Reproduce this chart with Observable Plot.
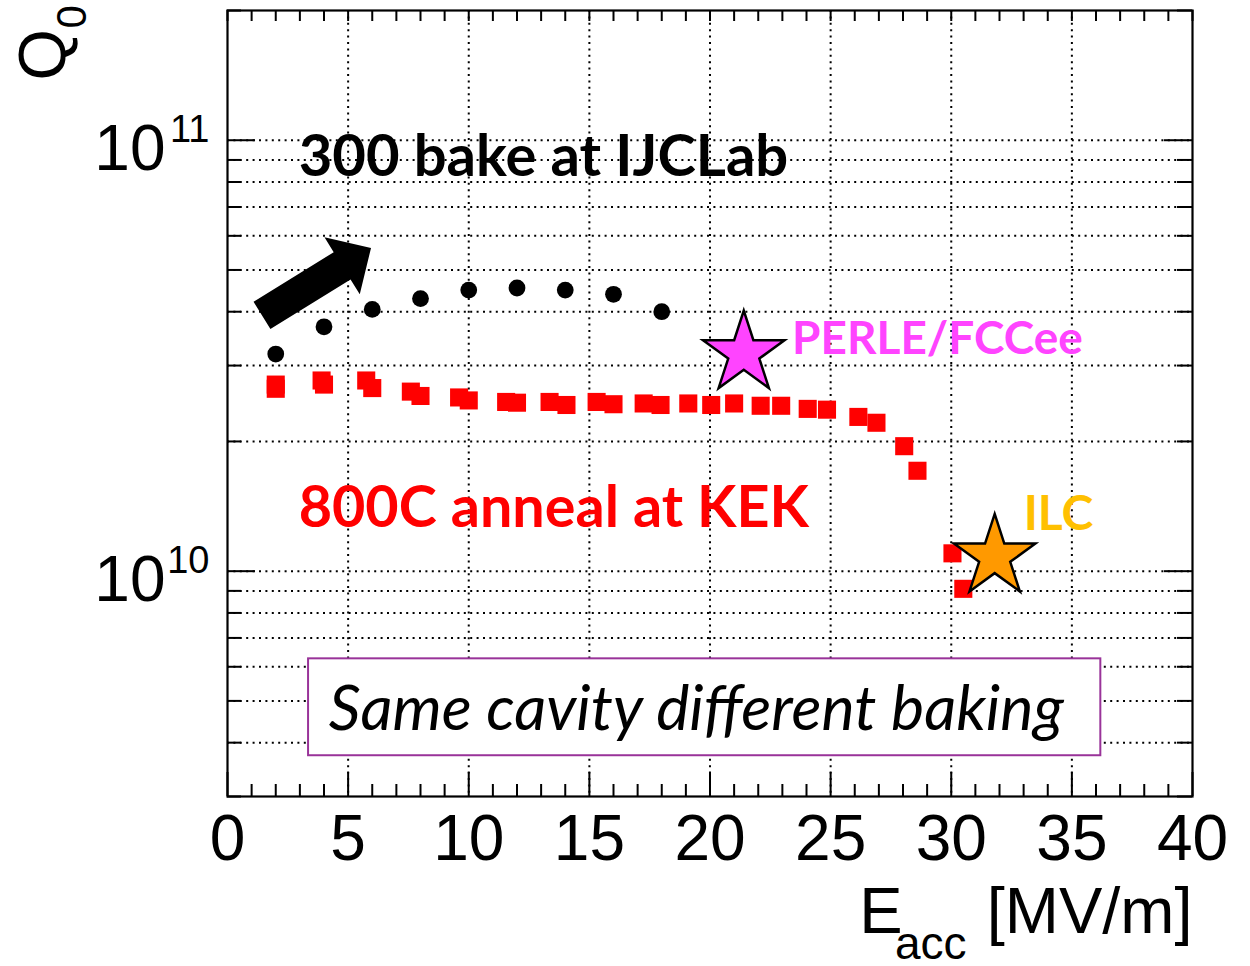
<!DOCTYPE html>
<html>
<head>
<meta charset="utf-8">
<script src="https://cdn.jsdelivr.net/npm/d3@7"></script>
<script src="https://cdn.jsdelivr.net/npm/@observablehq/plot@0.6"></script>
<style>
  html, body { margin: 0; padding: 0; background: #fff; }
</style>
</head>
<body>
<div id="chart"></div>
<script>
// Q0 against accelerating gradient for one cavity, after two different heat treatments

// 800C anneal (KEK): gradient in MV/m and quality factor
const gradient800C = [2.0, 2.0, 3.9, 4.0, 5.75, 6.0, 7.6, 8.0, 9.6, 10.0, 11.55, 12.0, 13.35, 14.05, 15.3, 16.0,
  17.25, 17.95, 19.1, 20.05, 21.0, 22.1, 22.95, 24.05, 24.85, 26.15, 26.9, 28.05, 28.6, 30.05, 30.5];
const q0800C = [2.71e10, 2.65e10, 2.77e10, 2.71e10, 2.77e10, 2.66e10, 2.61e10, 2.55e10, 2.53e10, 2.49e10, 2.47e10, 2.46e10,
  2.47e10, 2.43e10, 2.47e10, 2.44e10, 2.45e10, 2.43e10, 2.45e10, 2.43e10, 2.45e10, 2.42e10, 2.42e10, 2.38e10, 2.37e10,
  2.28e10, 2.21e10, 1.95e10, 1.71e10, 1.10e10, 9.1e9];

// 300C bake (IJCLab)
const gradient300C = [2, 4, 6, 8, 10, 12, 14, 16, 18];
const q0300C = [3.19e10, 3.69e10, 4.05e10, 4.29e10, 4.49e10, 4.54e10, 4.49e10, 4.39e10, 4.00e10];

// Machine specifications
const targetNames = ["PERLE/FCCee", "ILC"];
const targetGradient = [21.4, 31.8];
const targetQ0 = [3.2e10, 1.08e10];
const targetFill = ["#ff44ff", "#ff9900"];
const targetTextColor = ["#ff44ff", "#ffc000"];

// Axes
const xMajorTicks = [0, 5, 10, 15, 20, 25, 30, 35, 40];
const xMinorTicks = [1, 2, 3, 4, 6, 7, 8, 9, 11, 12, 13, 14, 16, 17, 18, 19, 21, 22, 23, 24, 26, 27, 28, 29,
  31, 32, 33, 34, 36, 37, 38, 39];
const xGrid = [5, 10, 15, 20, 25, 30, 35];
const yMajorTicks = [1e10, 1e11];
const yTickBase = ["10", "10"];
const yTickExponent = ["10", "11"];
const yMinorTicks = [3e9, 4e9, 5e9, 6e9, 7e9, 8e9, 9e9, 2e10, 3e10, 4e10, 5e10, 6e10, 7e10, 8e10, 9e10, 2e11];
const yGrid = [4e9, 5e9, 6e9, 7e9, 8e9, 9e9, 1e10, 2e10, 3e10, 4e10, 5e10, 6e10, 7e10, 8e10, 9e10, 1e11];

// Annotations (data coordinates)
const bakeLabel = {text: "300 bake at IJCLab", x: 2.95, y: 9.1e10};
const annealLabel = {text: "800C anneal at KEK", x: 2.95, y: 1.40e10};
const targetLabelX = [23.4, 33.0];
const targetLabelY = [3.45e10, 1.35e10];
const targetLabelSize = [46, 48];
const noteBox = {x1: 3.36, x2: 36.2, y1: 3.73e9, y2: 6.26e9};
const noteText = {text: "Same cavity different baking", x: 4.2, y: 4.76e9};
const arrowFrom = [1.45, 3.91e10];
const arrowTo = [5.97, 5.61e10];

const W = 1250, H = 966;
const M = {top: 10, right: 58, bottom: 170, left: 227};
const frameW = W - M.left - M.right;
const frameH = H - M.top - M.bottom;

const kek = gradient800C.map((x, i) => ({x, q: q0800C[i]}));
const ijc = gradient300C.map((x, i) => ({x, q: q0300C[i]}));
const targets = targetNames.map((name, i) => ({
  name, x: targetGradient[i], q: targetQ0[i], fill: targetFill[i],
  color: targetTextColor[i], lx: targetLabelX[i], ly: targetLabelY[i], size: targetLabelSize[i]
}));

const axisFont = "'Liberation Sans', Arial, Helvetica, sans-serif";
const noteFont = "Lato, 'Open Sans', sans-serif";
const gridStyle = {stroke: "black", strokeWidth: 2, strokeDasharray: "2,4.4"};

// Thick block arrow between two data points
function blockArrow(index, scales) {
  const x0 = scales.x(arrowFrom[0]), y0 = scales.y(arrowFrom[1]);
  const x1 = scales.x(arrowTo[0]), y1 = scales.y(arrowTo[1]);
  const len = Math.hypot(x1 - x0, y1 - y0);
  const ux = (x1 - x0) / len, uy = (y1 - y0) / len;
  const px = -uy, py = ux;
  const shaftHalf = 16, headHalf = 33.5, headLen = 34;
  const bx = x1 - ux * headLen, by = y1 - uy * headLen;
  const pts = [
    [x0 + px * shaftHalf, y0 + py * shaftHalf],
    [bx + px * shaftHalf, by + py * shaftHalf],
    [bx + px * headHalf, by + py * headHalf],
    [x1, y1],
    [bx - px * headHalf, by - py * headHalf],
    [bx - px * shaftHalf, by - py * shaftHalf],
    [x0 - px * shaftHalf, y0 - py * shaftHalf]
  ];
  const g = d3.create("svg:g");
  g.append("path").attr("d", "M" + pts.map(p => p.join(",")).join("L") + "Z").attr("fill", "black");
  return g.node();
}

const chart = Plot.plot({
  width: W, height: H,
  marginTop: M.top, marginRight: M.right, marginBottom: M.bottom, marginLeft: M.left,
  style: {fontFamily: axisFont, background: "white", overflow: "visible", color: "black"},
  x: {domain: [0, 40], axis: null},
  y: {type: "log", domain: [3e9, 2e11], axis: null},
  color: {type: "identity"},
  marks: [
    // dotted grid
    Plot.ruleX(xGrid, gridStyle),
    Plot.ruleY(yGrid, gridStyle),

    // boxed note
    Plot.rect([noteBox], {x1: "x1", x2: "x2", y1: "y1", y2: "y2", fill: "white", stroke: "#993399", strokeWidth: 2}),
    Plot.text([noteText], {x: "x", y: "y", text: "text", textAnchor: "start", fontSize: 62.6,
      fontStyle: "italic", fontFamily: noteFont, fill: "black"}),

    // arrow pointing up from the 800C curve
    blockArrow,

    // measurements
    Plot.dot(kek, {x: "x", y: "q", symbol: "square", r: 10.2, fill: "#ff0000"}),
    Plot.dot(ijc, {x: "x", y: "q", symbol: "circle", r: 8.4, fill: "black"}),

    // specification stars and their labels
    Plot.dot(targets, {x: "x", y: "q", symbol: "star", r: 25.6, fill: "fill", stroke: "black", strokeWidth: 2.5}),
    Plot.text(targets, {x: "lx", y: "ly", text: "name", fill: "color", textAnchor: "start",
      fontSize: d => d.size, fontWeight: "bold", fontFamily: noteFont}),

    // series labels
    Plot.text([bakeLabel], {x: "x", y: "y", text: "text", textAnchor: "start", fontSize: 58,
      fontWeight: "bold", fontFamily: noteFont, fill: "black"}),
    Plot.text([annealLabel], {x: "x", y: "y", text: "text", textAnchor: "start", fontSize: 57.5,
      fontWeight: "bold", fontFamily: noteFont, fill: "#ff0000"}),

    // inward ticks on all four sides
    Plot.ruleX(xMajorTicks, {insetTop: frameH - 24, stroke: "black", strokeWidth: 2}),
    Plot.ruleX(xMinorTicks, {insetTop: frameH - 12, stroke: "black", strokeWidth: 2}),
    Plot.ruleX(xMajorTicks.concat(xMinorTicks), {insetBottom: frameH - 11, stroke: "black", strokeWidth: 2}),
    Plot.ruleY(yMajorTicks, {insetRight: frameW - 28, stroke: "black", strokeWidth: 2}),
    Plot.ruleY(yMinorTicks, {insetRight: frameW - 14, stroke: "black", strokeWidth: 2}),
    Plot.ruleY(yMajorTicks, {insetLeft: frameW - 28, stroke: "black", strokeWidth: 2}),
    Plot.ruleY(yMinorTicks, {insetLeft: frameW - 15, stroke: "black", strokeWidth: 2}),
    Plot.frame({stroke: "black", strokeWidth: 2.2}),

    // x tick labels
    Plot.text(xMajorTicks, {x: d => d, frameAnchor: "bottom", lineAnchor: "top", dy: 18, fontSize: 64,
      text: d => String(d), fill: "black"}),
    // y tick labels: base and exponent
    Plot.text(yMajorTicks, {y: d => d, frameAnchor: "left", textAnchor: "end", dx: -62, dy: 9.5, fontSize: 64,
      text: (d, i) => yTickBase[i], fill: "black"}),
    Plot.text(yMajorTicks, {y: d => d, frameAnchor: "left", textAnchor: "end", dx: -18, dy: -10.5, fontSize: 38,
      text: (d, i) => yTickExponent[i], fill: "black"}),

    // x title: E_acc [MV/m]
    Plot.text(["[MV/m]"], {frameAnchor: "bottom-right", textAnchor: "end", dy: 136, fontSize: 65, fill: "black"}),
    Plot.text(["acc"], {frameAnchor: "bottom-right", textAnchor: "end", dx: -226, dy: 162, fontSize: 46, fill: "black"}),
    Plot.text(["E"], {frameAnchor: "bottom-right", textAnchor: "end", dx: -290, dy: 136, fontSize: 65, fill: "black"}),

    // y title: Q_0, rotated
    Plot.text(["Q"], {frameAnchor: "top-left", textAnchor: "start", rotate: -90, dx: -209, dy: 70, fontSize: 66, fill: "black"}),
    Plot.text(["0"], {frameAnchor: "top-left", textAnchor: "start", rotate: -90, dx: -171, dy: 18, fontSize: 42, fill: "black"})
  ]
});

document.getElementById("chart").appendChild(chart);
</script>
</body>
</html>
